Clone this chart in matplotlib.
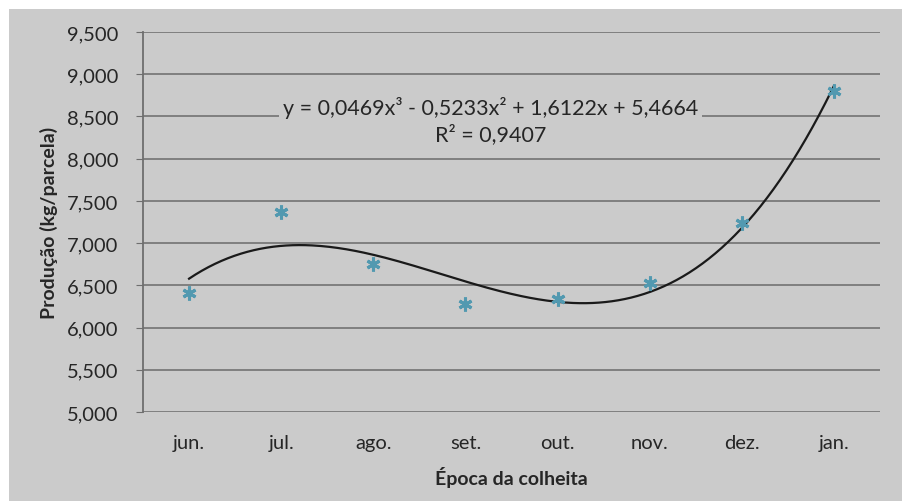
import numpy as np
import matplotlib.pyplot as plt
from matplotlib.ticker import FuncFormatter

meses = ["jun.", "jul.", "ago.", "set.", "out.", "nov.", "dez.", "jan."]
producao = [6.41, 7.37, 6.75, 6.28, 6.34, 6.53, 7.24, 8.80]
eq_text = "y = 0,0469x³ - 0,5233x² + 1,6122x + 5,4664\nR² = 0,9407"

plt.rcParams['font.family'] = ['Lato', 'DejaVu Sans']
bg = "#cbcbcb"

fig = plt.figure(figsize=(9.08, 5.02), dpi=100, facecolor="white")
# gray chart area like the excel export
fig.patches.append(plt.Rectangle((9/908, 0), 893/908, 492/502, transform=fig.transFigure,
                                 facecolor=bg, edgecolor="none", zorder=-10))
ax = fig.add_axes([143/908, 89/502, 737/908, 380/502])
ax.set_facecolor(bg)

x = np.arange(1, len(meses) + 1)
# cubic trendline fitted to the points
coef = np.polyfit(x, producao, 3)
xs = np.linspace(1, 8, 300)
ax.plot(xs, np.polyval(coef, xs), color="#1a1a1a", lw=1.6, zorder=3)
ax.plot(x, producao, ls="none", marker=(6, 2, 0), ms=10, mew=2.2, color="#5299b0", zorder=4)

ax.set_xlim(0.5, 8.5)
ax.set_ylim(5.0, 9.5)
ax.set_yticks(np.arange(5.0, 9.51, 0.5))
ax.yaxis.set_major_formatter(FuncFormatter(lambda v, p: f"{v:.3f}".replace(".", ",")))
ax.set_xticks(x)
ax.set_xticklabels(meses)
ax.grid(axis="y", color="#7a7a7a", lw=1.3)
ax.set_axisbelow(True)
for s in ["top", "right", "bottom"]:
    ax.spines[s].set_visible(False)
ax.spines["left"].set_color("#6e6e6e")
ax.spines["left"].set_linewidth(1.3)
ax.tick_params(axis="y", length=5, color="#6e6e6e", labelsize=14.5, labelcolor="#262626", pad=13)
ax.tick_params(axis="x", length=0, labelsize=14.5, labelcolor="#262626", pad=16)

ax.set_ylabel("Produção (kg/parcela)", fontsize=14, fontweight="bold", color="#262626", labelpad=6)
ax.set_xlabel("Época da colheita", fontsize=14, fontweight="bold", color="#262626", labelpad=11)

ax.text(4.27, 8.46, eq_text, ha="center", va="center", fontsize=15.5, color="#262626",
        linespacing=1.3, zorder=5,
        bbox=dict(facecolor=bg, edgecolor="none", pad=3))

fig.savefig("out.png", dpi=100, facecolor="white")
